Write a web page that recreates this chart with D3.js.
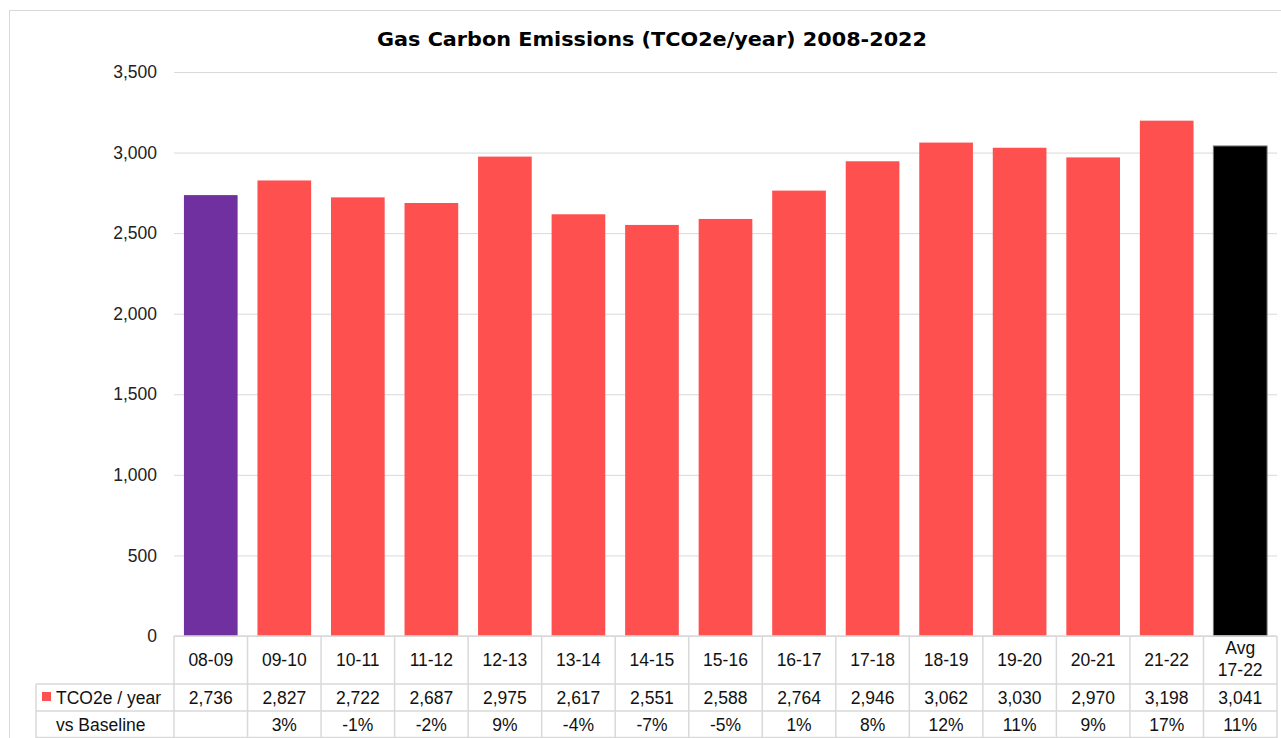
<!DOCTYPE html>
<html>
<head>
<meta charset="utf-8">
<script src="https://cdn.jsdelivr.net/npm/d3@7"></script>
<style>
  html, body { margin: 0; padding: 0; background: #fff; }
  svg { display: block; }
</style>
</head>
<body>
<svg id="chart" width="1281" height="738"></svg>
<script>
// Financial-year categories and yearly gas emissions (TCO2e)
const categories = ["08-09", "09-10", "10-11", "11-12", "12-13", "13-14", "14-15", "15-16",
                    "16-17", "17-18", "18-19", "19-20", "20-21", "21-22", "Avg\n17-22"];
const emissions = [2736, 2827, 2722, 2687, 2975, 2617, 2551, 2588,
                   2764, 2946, 3062, 3030, 2970, 3198, 3041];
const vsBaseline = ["", "3%", "-1%", "-2%", "9%", "-4%", "-7%", "-5%",
                    "1%", "8%", "12%", "11%", "9%", "17%", "11%"];
const yTicks = [0, 500, 1000, 1500, 2000, 2500, 3000, 3500];

const svg = d3.select("#chart");
const plotL = 174, plotR = 1277, plotT = 72, plotB = 636;
const rowCat = 684, rowVal = 711, rowEnd = 738, legendLeft = 36;
const FONT = "Liberation Sans, Arial", FS = 17.5;

const x = d3.scaleBand().domain(categories).range([plotL, plotR]).paddingInner(0.27).paddingOuter(0.135);
const xCol = d3.scaleBand().domain(categories).range([plotL, plotR]);
const y = d3.scaleLinear().domain([0, 3500]).range([plotB, plotT]);

const barColor = (d, i) => i === 0 ? "#7030A0" : (i === categories.length - 1 ? "#000000" : "#FF5050");
const fmt = d3.format(",");

// outer frame
svg.append("rect").attr("x", 9.5).attr("y", 10.5).attr("width", 1290).attr("height", 740)
  .attr("fill", "none").attr("stroke", "#d9d9d9");

// title
svg.append("text").attr("x", 652).attr("y", 46).attr("text-anchor", "middle")
  .attr("font-family", "DejaVu Sans").attr("font-weight", "bold").attr("font-size", 19)
  .attr("fill", "#000").attr("textLength", 550).attr("lengthAdjust", "spacingAndGlyphs")
  .text("Gas Carbon Emissions (TCO2e/year) 2008-2022");

// gridlines and y labels
const yAxis = d3.axisLeft(y).tickValues(yTicks).tickFormat(fmt).tickSize(-(plotR - plotL)).tickPadding(17);
const gy = svg.append("g").attr("transform", `translate(${plotL},0)`).call(yAxis);
gy.select(".domain").remove();
gy.selectAll(".tick line").attr("stroke", "#d9d9d9").attr("stroke-width", 1);
gy.selectAll(".tick text").attr("font-family", FONT).attr("font-size", FS).attr("fill", "#222");

// bars
svg.append("g").selectAll("rect").data(emissions).join("rect")
  .attr("x", (d, i) => x(categories[i]))
  .attr("y", d => y(d))
  .attr("width", x.bandwidth())
  .attr("height", d => y(0) - y(d))
  .attr("fill", barColor)
  .attr("stroke", (d, i) => i === categories.length - 1 ? "#777" : "none")
  .attr("stroke-width", 1);

// data table
const grid = svg.append("g").attr("stroke", "#d9d9d9").attr("stroke-width", 1.5);
grid.append("line").attr("x1", plotL).attr("x2", plotR).attr("y1", plotB).attr("y2", plotB);
[rowCat, rowVal].forEach(yy => grid.append("line").attr("x1", legendLeft).attr("x2", plotR).attr("y1", yy).attr("y2", yy));
grid.append("line").attr("x1", legendLeft).attr("x2", plotR).attr("y1", rowEnd - 0.5).attr("y2", rowEnd - 0.5);
grid.append("line").attr("x1", legendLeft).attr("x2", legendLeft).attr("y1", rowCat).attr("y2", rowEnd);
categories.concat([null]).forEach((c, i) => {
  const xx = plotL + i * xCol.step();
  grid.append("line").attr("x1", xx).attr("x2", xx).attr("y1", plotB).attr("y2", rowEnd);
});

const tfont = g => g.attr("font-family", FONT).attr("font-size", FS)
  .attr("fill", "#111").attr("text-anchor", "middle");

const cats = svg.append("g").call(tfont);
categories.forEach(c => {
  const cx = xCol(c) + xCol.bandwidth() / 2;
  const lines = c.split("\n");
  const t = cats.append("text").attr("x", cx);
  if (lines.length === 1) {
    t.attr("y", 666).text(c);
  } else {
    lines.forEach((l, k) => t.append("tspan").attr("x", cx).attr("y", 654 + k * 22).text(l));
  }
});

const vals = svg.append("g").call(tfont);
emissions.forEach((v, i) => {
  vals.append("text").attr("x", xCol(categories[i]) + xCol.bandwidth() / 2).attr("y", 704).text(fmt(v));
});
const base = svg.append("g").call(tfont);
vsBaseline.forEach((v, i) => {
  base.append("text").attr("x", xCol(categories[i]) + xCol.bandwidth() / 2).attr("y", 731).text(v);
});

// row headers
svg.append("rect").attr("x", 42).attr("y", 692).attr("width", 9).attr("height", 9).attr("fill", "#FF5050");
svg.append("text").attr("x", 56).attr("y", 704).attr("font-family", FONT)
  .attr("font-size", FS).attr("fill", "#111").text("TCO2e / year");
svg.append("text").attr("x", 56).attr("y", 731).attr("font-family", FONT)
  .attr("font-size", FS).attr("fill", "#111").text("vs Baseline");
</script>
</body>
</html>
